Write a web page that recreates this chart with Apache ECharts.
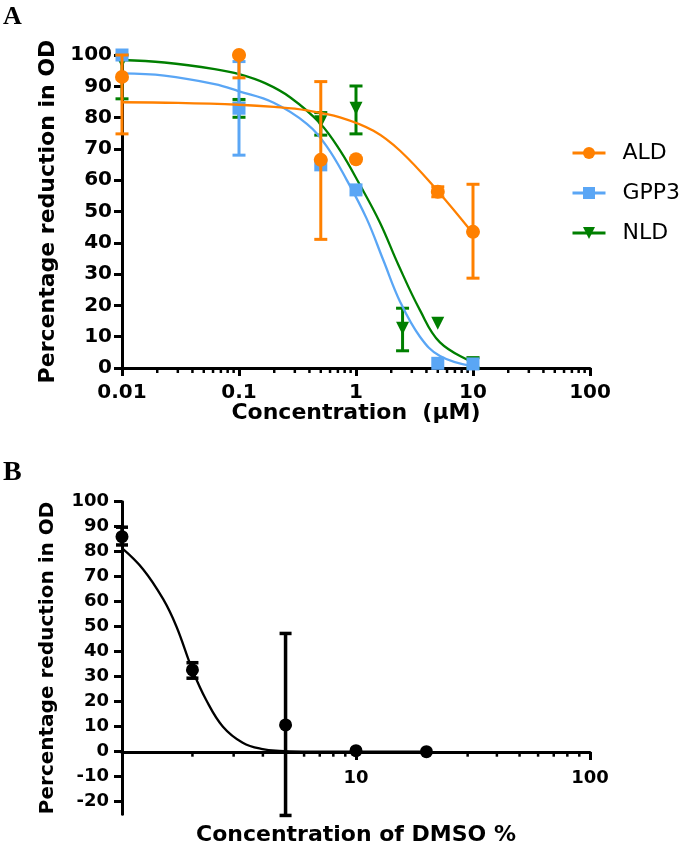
<!DOCTYPE html>
<html><head><meta charset="utf-8">
<script src="https://cdn.jsdelivr.net/npm/echarts@6/dist/echarts.min.js"></script>
<style>html,body{margin:0;padding:0;background:#fff}#c{width:692px;height:856px}</style>
</head><body><div id="c"></div>
<script>
// ---------- Panel A : drug concentration (µM) ----------
const aldConc = [0.01, 0.1, 0.5, 1, 5, 10];
const aldMean = [93, 100, 66.5, 66.7, 56.3, 43.5];
const aldLow  = [74.8, 92.7, 41.1, null, 54.7, 28.7];
const aldHigh = [100, 100, 91.5, null, 57.9, 58.7];

const gppConc = [0.01, 0.1, 0.5, 1, 5, 10];
const gppMean = [100, 83, 64.9, 56.9, 1.5, 1.3];
const gppLow  = [null, 68, null, null, null, null];
const gppHigh = [null, 97.9, null, null, null, null];

const nldConc = [0.01, 0.1, 0.5, 1, 2.5, 5, 10];
const nldMean = [98, 83, 78.7, 83, 12.7, 14.3, 1.5];
const nldLow  = [86, 80.1, 74.4, 74.8, 5.5, null, 0];
const nldHigh = [100, 85.8, 81.6, 90.1, 19.1, null, 3.3];

// fitted curves
const aldFitX = [0.01, 0.03, 0.1, 0.2, 0.38, 0.73, 1.41, 2.38, 4.9, 10];
const aldFitY = [84.9, 84.7, 84.1, 83.4, 82.3, 80.1, 75.8, 69.4, 56.9, 43];
const gppFitX = [0.01, 0.023, 0.062, 0.1, 0.196, 0.38, 0.56, 0.83, 1.23, 1.71, 2.38, 3.52, 5.22, 10];
const gppFitY = [94.1, 93.4, 90.7, 88.4, 84.8, 78.0, 70.9, 60.2, 47.8, 34.5, 21.2, 10, 3.8, 0.5];
const nldFitX = [0.01, 0.023, 0.062, 0.102, 0.167, 0.273, 0.492, 0.73, 1.08, 1.6, 2.3, 3.52, 5.22, 10];
const nldFitY = [98.4, 97.6, 95.5, 93.8, 91.0, 86.5, 78.2, 69.5, 58.5, 46.5, 33, 18.5, 8.2, 1.8];

// ---------- Panel B : DMSO % ----------
const dmsoConc = [1, 2, 5, 10, 20];
const dmsoMean = [86, 32.7, 10.7, 0.4, 0];
const dmsoLow  = [82.7, 29.4, -25.5, null, null];
const dmsoHigh = [89.8, 35.6, 47.3, null, null];
const dmsoFitX = [1, 1.23, 1.5, 1.71, 2, 2.29, 2.7, 3.28, 3.99, 4.7, 6, 10, 20];
const dmsoFitY = [81.4, 73, 61, 50, 32.7, 20.7, 10, 3.6, 1, 0.3, 0.05, 0, 0];

// axis ticks / labels
const yTicksB = [-20, -10, 0, 10, 20, 30, 40, 50, 60, 70, 80, 90, 100];
const minorTicksA = [0.02,0.03,0.04,0.05,0.06,0.07,0.08,0.09,0.2,0.3,0.4,0.5,0.6,0.7,0.8,0.9,2,3,4,5,6,7,8,9,20,30,40,50,60,70,80,90];
const minorTicksB = [2,3,4,5,6,7,8,9,20,30,40,50,60,70,80,90];

const ORANGE = '#FF8000', BLUE = '#5AA6F5', GREEN = '#007F00', BLACK = '#000';
const FONT = 'DejaVu Sans';

function zip(xs, ys) { return xs.map((x, i) => [x, ys[i]]); }
function errRows(xs, lo, hi) {
  const out = [];
  xs.forEach((x, i) => { if (lo[i] != null && hi[i] != null) out.push([x, lo[i], hi[i]]); });
  return out;
}
function errRender(color, capW, lw) {
  return function (params, api) {
    const x = api.value(0);
    const a = api.coord([x, api.value(2)]);
    const b = api.coord([x, api.value(1)]);
    const st = { stroke: color, lineWidth: lw };
    return { type: 'group', children: [
      { type: 'line', shape: { x1: a[0], y1: a[1], x2: b[0], y2: b[1] }, style: st },
      { type: 'line', shape: { x1: a[0] - capW / 2, y1: a[1], x2: a[0] + capW / 2, y2: a[1] }, style: st },
      { type: 'line', shape: { x1: b[0] - capW / 2, y1: b[1], x2: b[0] + capW / 2, y2: b[1] }, style: st }
    ]};
  };
}
function tickRender(len, lw) {
  return function (params, api) {
    const p = api.coord([api.value(0), 0]);
    return { type: 'line', shape: { x1: p[0], y1: p[1], x2: p[0], y2: p[1] + len }, style: { stroke: BLACK, lineWidth: lw } };
  };
}

const nameStyle = (fs) => ({ fontFamily: FONT, fontWeight: 'bold', fontSize: fs, color: BLACK });

function fitLine(name, xs, ys, color, symbol, rot, xi, yi, z) {
  return { type: 'line', name, xAxisIndex: xi, yAxisIndex: yi, data: zip(xs, ys), smooth: 0.4, smoothConstraint: false,
    symbol, symbolRotate: rot, showSymbol: false, lineStyle: { color, width: 2.3 }, itemStyle: { color }, z, clip: false, silent: true };
}
function pts(name, xs, ys, color, symbol, rot, size, xi, yi, z) {
  return { type: 'scatter', name, xAxisIndex: xi, yAxisIndex: yi, data: zip(xs, ys), symbol, symbolRotate: rot, symbolSize: size,
    itemStyle: { color, opacity: 1 }, z, clip: false, silent: true };
}
function errs(name, rows, color, capW, lw, xi, yi, z) {
  return { type: 'custom', name, xAxisIndex: xi, yAxisIndex: yi, data: rows, encode: { x: 0, y: [1, 2] },
    renderItem: errRender(color, capW, lw), z, clip: false, silent: true };
}

const option = {
  animation: false,
  backgroundColor: '#fff',
  textStyle: { fontFamily: FONT },
  graphic: [
    { type: 'text', left: 3, top: 4, style: { text: 'A', font: 'bold 26px "Liberation Serif"', fill: BLACK } },
    { type: 'text', left: 3, top: 459, style: { text: 'B', font: 'bold 28px "Liberation Serif"', fill: BLACK } }
  ],
  grid: [
    { left: 122, top: 55, width: 468, height: 313, containLabel: false, outerBoundsMode: 'none' },
    { left: 122, top: 501.7, width: 468, height: 312.5, containLabel: false, outerBoundsMode: 'none' }
  ],
  legend: {
    data: ['ALD', 'GPP3', 'NLD'], orient: 'vertical', left: 566, top: 137,
    itemWidth: 33, itemHeight: 15, itemGap: 18,
    textStyle: { fontFamily: FONT, fontSize: 22, color: BLACK, padding: [0, 0, 0, 12] },
    lineStyle: { width: 3 }
  },
  xAxis: [
    { type: 'log', logBase: 10, min: 0.01, max: 100, gridIndex: 0, position: 'bottom',
      axisLine: { show: true, onZero: false, lineStyle: { color: BLACK, width: 3 } },
      axisTick: { show: true, length: 8, lineStyle: { color: BLACK, width: 3 } },
      axisLabel: { fontFamily: FONT, fontWeight: 'bold', fontSize: 20, color: BLACK, margin: 15, formatter: v => String(v) },
      splitLine: { show: false }, minorTick: { show: false },
      name: 'Concentration  (\u03BCM)', nameLocation: 'middle', nameGap: 34, nameMoveOverlap: false, nameTextStyle: nameStyle(22) },
    { type: 'log', logBase: 10, min: 1, max: 100, gridIndex: 1, position: 'bottom', offset: -62.3,
      axisLine: { show: true, onZero: false, lineStyle: { color: BLACK, width: 3 } },
      axisTick: { show: true, length: 8, lineStyle: { color: BLACK, width: 3 } },
      axisLabel: { fontFamily: FONT, fontWeight: 'bold', fontSize: 18, color: BLACK, margin: 17, showMinLabel: false, formatter: v => String(v) },
      splitLine: { show: false }, minorTick: { show: false },
      name: 'Concentration of DMSO %', nameLocation: 'middle', nameGap: 72, nameMoveOverlap: false, nameTextStyle: nameStyle(22) }
  ],
  yAxis: [
    { type: 'value', min: 0, max: 100, interval: 10, gridIndex: 0,
      axisLine: { show: true, onZero: false, lineStyle: { color: BLACK, width: 3 } },
      axisTick: { show: true, length: 8, lineStyle: { color: BLACK, width: 3 } },
      axisLabel: { fontFamily: FONT, fontWeight: 'bold', fontSize: 20, color: BLACK, margin: 10 },
      splitLine: { show: false },
      name: 'Percentage reduction in OD', nameLocation: 'middle', nameGap: 63, nameMoveOverlap: false, nameTextStyle: nameStyle(22) },
    { type: 'value', min: -25, max: 100, gridIndex: 1,
      axisLine: { show: true, onZero: false, lineStyle: { color: BLACK, width: 3 } },
      axisTick: { show: true, length: 8, customValues: yTicksB, lineStyle: { color: BLACK, width: 3 } },
      axisLabel: { fontFamily: FONT, fontWeight: 'bold', fontSize: 18, color: BLACK, margin: 13, customValues: yTicksB },
      splitLine: { show: false },
      name: 'Percentage reduction in OD', nameLocation: 'middle', nameGap: 64, nameMoveOverlap: false, nameTextStyle: nameStyle(20) }
  ],
  series: [
    fitLine('ALD', aldFitX, aldFitY, ORANGE, 'circle', 0, 0, 0, 6),
    fitLine('GPP3', gppFitX, gppFitY, BLUE, 'rect', 0, 0, 0, 4),
    fitLine('NLD', nldFitX, nldFitY, GREEN, 'triangle', 180, 0, 0, 2),
    errs('NLD', errRows(nldConc, nldLow, nldHigh), GREEN, 13, 3, 0, 0, 3),
    pts('NLD', nldConc, nldMean, GREEN, 'triangle', 180, 13, 0, 0, 3),
    errs('GPP3', errRows(gppConc, gppLow, gppHigh), BLUE, 13, 3, 0, 0, 5),
    pts('GPP3', gppConc, gppMean, BLUE, 'rect', 0, 13, 0, 0, 5),
    errs('ALD', errRows(aldConc, aldLow, aldHigh), ORANGE, 13, 3, 0, 0, 7),
    pts('ALD', aldConc, aldMean, ORANGE, 'circle', 0, 14, 0, 0, 7),
    { type: 'custom', name: 'minorA', xAxisIndex: 0, yAxisIndex: 0, data: minorTicksA.map(v => [v, 0]), encode: { x: 0, y: 1 },
      renderItem: tickRender(5, 2.5), clip: false, silent: true, z: 1 },
    // Panel B
    fitLine('DMSO', dmsoFitX, dmsoFitY, BLACK, 'circle', 0, 1, 1, 2),
    errs('DMSOerr', errRows(dmsoConc, dmsoLow, dmsoHigh), BLACK, 12, 3.5, 1, 1, 3),
    pts('DMSOpts', dmsoConc, dmsoMean, BLACK, 'circle', 0, 13, 1, 1, 4),
    { type: 'custom', name: 'minorB', xAxisIndex: 1, yAxisIndex: 1, data: minorTicksB.map(v => [v, 0]), encode: { x: 0, y: 1 },
      renderItem: tickRender(5, 2.5), clip: false, silent: true, z: 1 }
  ]
};
const chart = echarts.init(document.getElementById('c'), null, { renderer: 'canvas' });
chart.setOption(option);
</script>
</body></html>
